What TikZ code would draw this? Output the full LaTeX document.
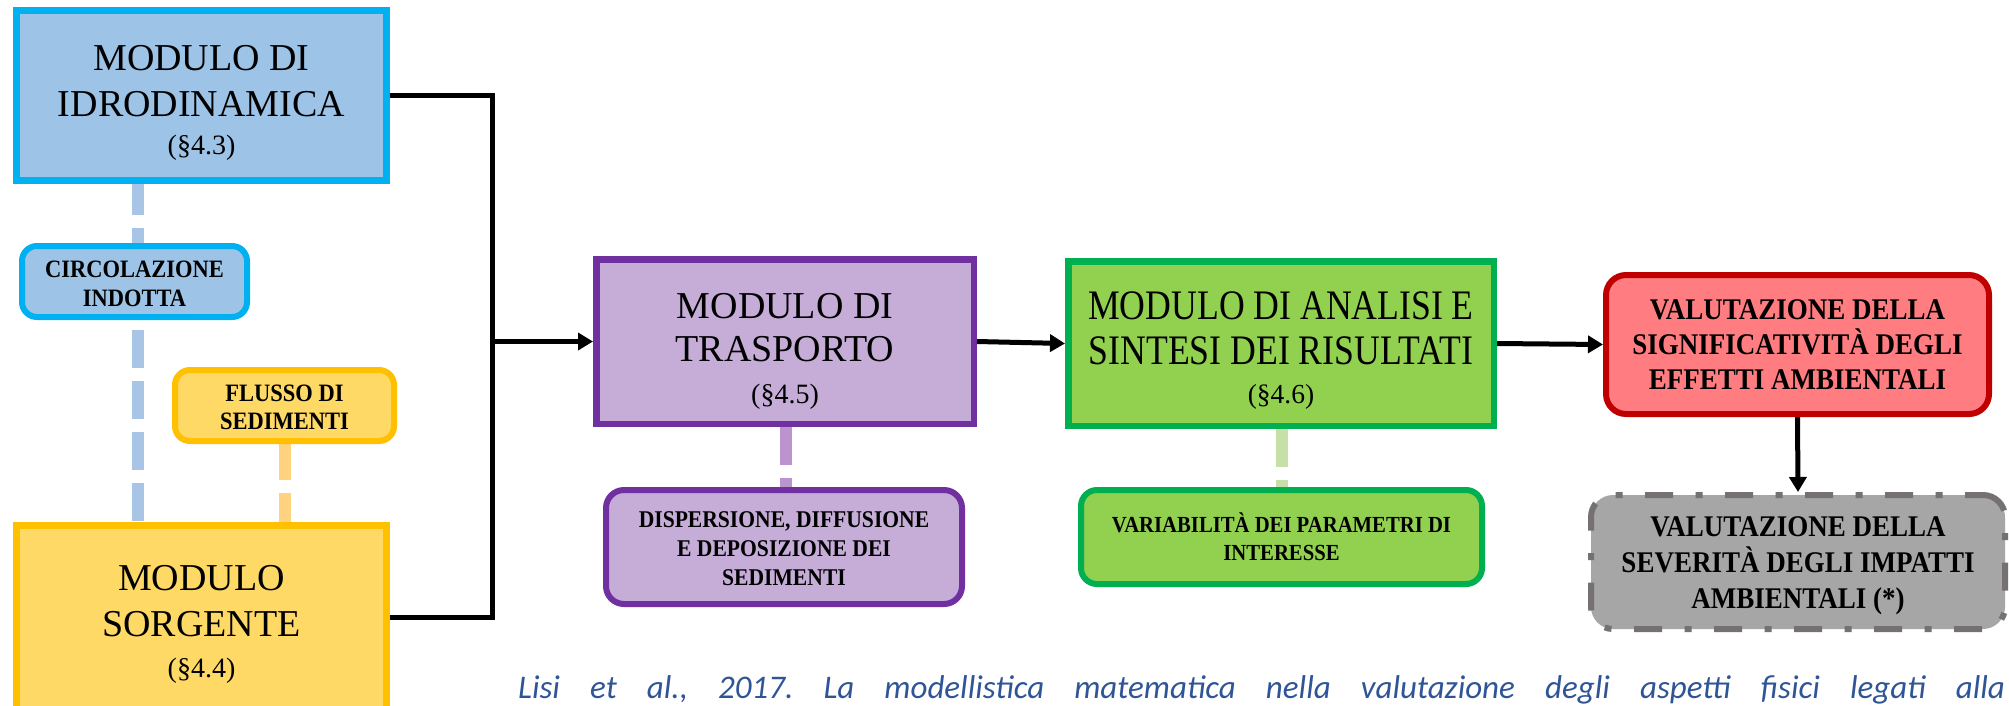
\documentclass[tikz,border=0pt]{standalone}
\usepackage{fontspec}
\setmainfont{Liberation Serif}
\newfontfamily\lblf[FakeStretch=0.9]{Liberation Serif}
\newfontfamily\anlf[FakeStretch=0.85]{Liberation Serif}
\newfontfamily\citef{Carlito}
\usetikzlibrary{arrows.meta,backgrounds}
\definecolor{idroF}{HTML}{9DC3E6}
\definecolor{idroL}{HTML}{00B0F0}
\definecolor{yelF}{HTML}{FFD966}
\definecolor{yelL}{HTML}{FFC000}
\definecolor{purF}{HTML}{C5ADD8}
\definecolor{purL}{HTML}{7030A0}
\definecolor{grnF}{HTML}{92D050}
\definecolor{grnL}{HTML}{00B050}
\definecolor{redF}{HTML}{FF7C80}
\definecolor{redL}{HTML}{C00000}
\definecolor{gryF}{HTML}{A6A6A6}
\definecolor{gryL}{HTML}{767171}
\definecolor{dBlue}{HTML}{A9C5E5}
\definecolor{dYel}{HTML}{FFD27F}
\definecolor{dPur}{HTML}{BB93CE}
\definecolor{dGrn}{HTML}{C6E0A8}
\definecolor{citeC}{HTML}{2F5597}
\tikzset{
  modbox/.style={draw, inner sep=0pt, line width=6.5pt},
  lblbox/.style={draw, inner sep=0pt, line width=6pt, rounded corners=15pt},
  bigtxt/.style={inner sep=0pt, align=center, font=\fontsize{38}{46}\selectfont},
  smalltxt/.style={inner sep=0pt, align=center},
  link/.style={line width=5pt, draw=black, line join=miter},
  arr/.style={link, -{Triangle[length=15pt,width=17pt]}},
  dashlink/.style={line width=12pt, dash pattern=on 38pt off 13pt},
}
\begin{document}
\begin{tikzpicture}[x=1pt,y=-1pt]
\useasboundingbox (0,0) rectangle (2009,705);
% boxes
\node[modbox, draw=idroL, fill=idroF, minimum width=370pt, minimum height=170pt] (idro) at (201.5,95.5) {};
\node[lblbox, draw=idroL, fill=idroF, minimum width=225pt, minimum height=71pt] (circ) at (134.5,281.5) {};
\node[lblbox, draw=yelL, fill=yelF, minimum width=219pt, minimum height=71pt] (flus) at (284.5,405.5) {};
\node[modbox, line width=7pt, draw=yelL, fill=yelF, minimum width=370pt, minimum height=231pt] (sorg) at (201.5,641) {};
\node[modbox, draw=purL, fill=purF, minimum width=377.5pt, minimum height=164.5pt] (trans) at (785,341.5) {};
\node[lblbox, rounded corners=18pt, draw=purL, fill=purF, minimum width=356pt, minimum height=114pt] (disp) at (784,547) {};
\node[modbox, draw=grnL, fill=grnF, minimum width=425.5pt, minimum height=164.5pt] (anal) at (1281,343.5) {};
\node[lblbox, rounded corners=16pt, draw=grnL, fill=grnF, minimum width=401pt, minimum height=94pt] (var) at (1281.5,537) {};
\node[lblbox, rounded corners=20pt, draw=redL, fill=redF, minimum width=383pt, minimum height=139pt] (red) at (1797.5,344.5) {};
\node[lblbox, rounded corners=22pt, draw=gryL, fill=gryF, dash pattern=on 28pt off 22.5pt on 7pt off 22.5pt, dash phase=10pt, minimum width=414pt, minimum height=134pt] (gray) at (1798,562) {};
% texts
\node[bigtxt] (idroT) at ([yshift=-7.5pt]idro.center) {MODULO DI\\IDRODINAMICA\\[-7.7pt]{\fontsize{28}{28}\selectfont(§4.3)}};
\node[bigtxt] (sorgT) at ([yshift=-102.5pt]sorg.north) {MODULO\\SORGENTE\\[-4.4pt]{\fontsize{28}{28}\selectfont(§4.4)}};
\node[bigtxt, font=\fontsize{38}{43.5}\selectfont] (transT) at ([yshift=-9.5pt]trans.center) {MODULO DI\\TRASPORTO\\[-1.9pt]{\fontsize{28}{28}\selectfont(§4.5)}};
\node[bigtxt, font=\anlf\fontsize{42}{45}\selectfont] (analT) at ([yshift=-7pt]anal.center) {MODULO DI ANALISI E\\SINTESI DEI RISULTATI\\[-6.7pt]{\rmfamily\fontsize{27.5}{27.5}\selectfont(§4.6)}};
\node[smalltxt, font=\lblf\bfseries\fontsize{25}{29}\selectfont] (circT) at ([yshift=-2.5pt]circ.center) {CIRCOLAZIONE\\INDOTTA};
\node[smalltxt, font=\lblf\bfseries\fontsize{25}{28.3}\selectfont] (flusT) at ([yshift=-2pt]flus.center) {FLUSSO DI\\SEDIMENTI};
\node[smalltxt, font=\lblf\bfseries\fontsize{24}{29}\selectfont] (dispT) at ([yshift=-1.2pt]disp.center) {DISPERSIONE, DIFFUSIONE\\E DEPOSIZIONE DEI\\SEDIMENTI};
\node[smalltxt, font=\lblf\bfseries\fontsize{23}{28.4}\selectfont] (varT) at (var.center) {VARIABILITÀ DEI PARAMETRI DI\\INTERESSE};
\node[smalltxt, font=\lblf\bfseries\fontsize{30}{35}\selectfont] (redT) at (red.center) {VALUTAZIONE DELLA\\SIGNIFICATIVITÀ DEGLI\\EFFETTI AMBIENTALI};
\node[smalltxt, font=\lblf\bfseries\fontsize{30}{36}\selectfont] (grayT) at ([yshift=-3.3pt]gray.center) {VALUTAZIONE DELLA\\SEVERITÀ DEGLI IMPATTI\\AMBIENTALI (*)};
% citation
\node[anchor=base west, inner sep=0pt, text=citeC, font=\citef\itshape\fontsize{33}{40}\selectfont\frenchspacing] (cite) at (518,698) {\makebox[1487pt][s]{Lisi et al., 2017. La modellistica matematica nella valutazione degli aspetti fisici legati alla}};
% background connectors
\begin{pgfonlayer}{background}
\fill[white] (0,0) rectangle (2009,705);
\draw[dashlink, draw=dBlue, dash phase=7pt] ([xshift=-63.5pt]idro.south) -- ([xshift=-63.5pt]sorg.north);
\draw[dashlink, draw=dYel, dash phase=2pt] (flus.south) -- (flus.south |- sorg.north);
\draw[dashlink, draw=dPur] ([xshift=1pt]trans.south) -- ([xshift=1pt]trans.south |- disp.north);
\draw[dashlink, draw=dGrn] ([xshift=1pt]anal.south) -- ([xshift=1pt]anal.south |- var.north);
\end{pgfonlayer}
% black connectors
\coordinate (jt) at (492,95.5);
\coordinate (jb) at (492,617);
\coordinate (jm) at (492,341.5);
\draw[link] (idro.east) -- (jt) -- (jb) -- (jb -| sorg.east);
\draw[arr] (jm) -- (trans.west);
\draw[arr] (trans.east) -- (anal.west);
\draw[arr] (anal.east) -- (red.west);
\draw[arr] (red.south) -- (gray.north);
\end{tikzpicture}
\end{document}
